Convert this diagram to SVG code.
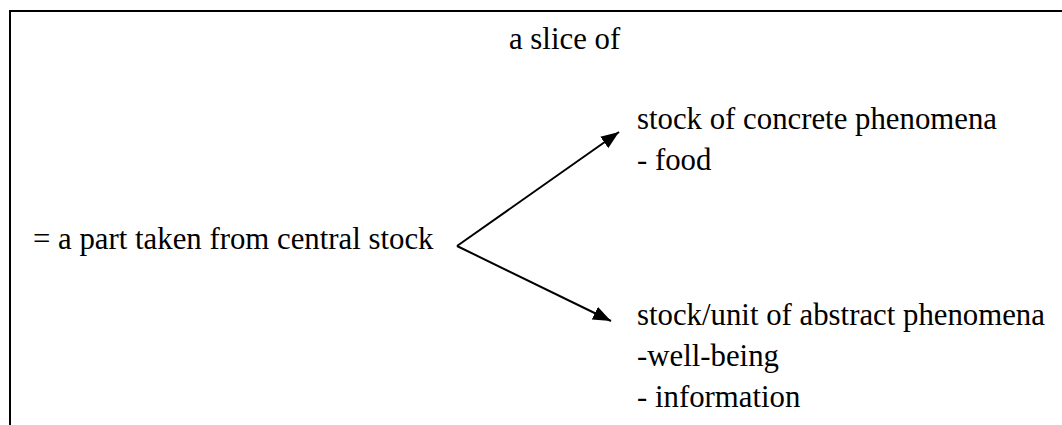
<svg xmlns="http://www.w3.org/2000/svg" width="1062" height="425" viewBox="0 0 1062 425">
  <style>
    .t { font-family: "Liberation Serif", "Times New Roman", serif; font-size: 30.8px; fill: #000; }
    .frame { stroke: #000; stroke-width: 2; fill: none; }
    .conn { stroke: #000; stroke-width: 2; fill: none; }
  </style>
  <defs>
    <marker id="arrow" markerUnits="userSpaceOnUse" markerWidth="18" markerHeight="14" refX="18" refY="7" orient="auto">
      <path d="M0,0 L18,7 L0,14 Z" fill="#000"/>
    </marker>
  </defs>
  <rect width="1062" height="425" fill="#fff"/>
  <g id="frame">
    <path class="frame" d="M10,425 L10,11 L1062,11"/>
  </g>
  <g id="title">
    <text class="t" x="509" y="49">a slice of</text>
  </g>
  <g id="central">
    <text class="t" x="33" y="249">= a part taken from central stock</text>
  </g>
  <g id="concrete">
    <text class="t" x="637" y="129">stock of concrete phenomena</text>
    <text class="t" x="637" y="170">- food</text>
  </g>
  <g id="abstract">
    <text class="t" x="637" y="325">stock/unit of abstract phenomena</text>
    <text class="t" x="637" y="366">-well-being</text>
    <text class="t" x="637" y="407">- information</text>
  </g>
  <g id="connectors">
    <line class="conn" x1="457" y1="246" x2="619" y2="132" marker-end="url(#arrow)"/>
    <line class="conn" x1="457" y1="246" x2="611" y2="321" marker-end="url(#arrow)"/>
  </g>
</svg>
